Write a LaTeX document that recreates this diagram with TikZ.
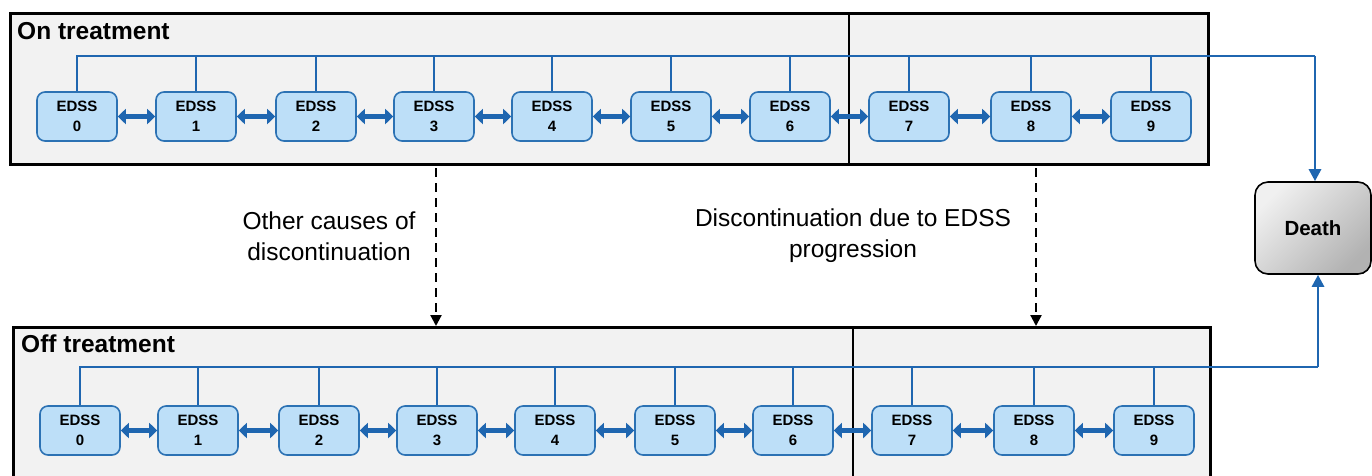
\documentclass[tikz,border=0pt]{standalone}
\usepackage{fontspec}
\setmainfont{Liberation Sans}
\usetikzlibrary{arrows.meta,shadings}
\definecolor{busblue}{HTML}{1F66B0}
\definecolor{boxblue}{HTML}{BDDFF8}
\definecolor{boxedge}{HTML}{2C72B4}
\definecolor{panelgray}{HTML}{F2F2F2}
\tikzset{
  panel/.style={draw=black, line width=3pt, fill=panelgray, minimum height=151pt, inner sep=0pt},
  divider/.style={draw=black, line width=2pt},
  edss/.style={draw=boxedge, line width=1.6pt, fill=boxblue, rounded corners=8pt,
     minimum width=80pt, minimum height=49pt, inner sep=0pt, align=center,
     font=\fontsize{15}{20}\selectfont\bfseries},
  bus/.style={draw=busblue, line width=2.8pt},
  busarrow/.style={bus, -{Triangle[length=12pt,width=12pt]}},
  dbl/.style={draw=busblue, line width=5.5pt, {Triangle[length=8pt,width=15pt]}-{Triangle[length=8pt,width=15pt]}},
  dasharrow/.style={draw=black, line width=2.2pt, dash pattern=on 9pt off 6pt, -{Triangle[length=11pt,width=11pt]}},
  title/.style={font=\fontsize{24.5}{28}\selectfont\bfseries, anchor=west, inner sep=0pt},
  lab/.style={font=\fontsize{24.5}{31}\selectfont, align=center, inner sep=0pt},
  death/.style={draw=black, line width=1.6pt, rounded corners=13pt, left color=gray!12, right color=gray!60,
     shading angle=45, minimum width=116pt, minimum height=92pt, font=\fontsize{20.5}{24}\selectfont\bfseries}
}
\begin{document}
\begin{tikzpicture}[x=1pt,y=-1pt]
\useasboundingbox (0,0) rectangle (1372,475);
% panels
\node[panel, minimum width=1198pt] (onp) at (609.5,89) {};
\node[panel, minimum width=1197pt, minimum height=160pt, anchor=north] (offp) at (611.5,326) {};
\draw[divider] (849,14) -- (849,164);
\draw[divider] (853,327) -- (853,480);
\node[title] (ont) at (17,31) {On treatment};
\node[title] (offt) at (21,344) {Off treatment};
% boxes
\foreach \i/\x in {0/77,1/196,2/316,3/434,4/552,5/671,6/790,7/909,8/1031,9/1151}{
  \node[edss] (t\i) at (\x,116.5) {EDSS\\\i};
}
\foreach \i/\x in {0/80,1/198,2/319,3/437,4/555,5/675,6/793,7/912,8/1034,9/1154}{
  \node[edss] (b\i) at (\x,430.5) {EDSS\\\i};
}
\foreach \a/\b in {0/1,1/2,2/3,3/4,4/5,5/6,6/7,7/8,8/9}{
  \draw[dbl] (t\a.east) -- (t\b.west);
  \draw[dbl] (b\a.east) -- (b\b.west);
}
% death
\node[death] (death) at (1313,228) {Death};
\coordinate (dtop) at (1315,56);
\coordinate (dbot) at (1318,367);
\draw[bus] (t0.north) |- (dtop);
\draw[busarrow] (dtop) -- (dtop |- death.north);
\foreach \i in {1,...,9}{ \draw[bus] (t\i.north) -- (t\i.north |- dtop); }
\draw[bus] (b0.north) |- (dbot);
\draw[busarrow] (dbot) -- (dbot |- death.south);
\foreach \i in {1,...,9}{ \draw[bus] (b\i.north) -- (b\i.north |- dbot); }
% dashed transitions
\coordinate (d1) at (436,0);
\coordinate (d2) at (1036,0);
\draw[dasharrow] (onp.south -| d1) ++(0,2) -- (offp.north -| d1);
\draw[dasharrow] (onp.south -| d2) ++(0,2) -- (offp.north -| d2);
\node[lab] (l1) at (329,236) {Other causes of\\discontinuation};
\node[lab] (l2) at (853,236) {Discontinuation due to EDSS\\progression};
\end{tikzpicture}
\end{document}
